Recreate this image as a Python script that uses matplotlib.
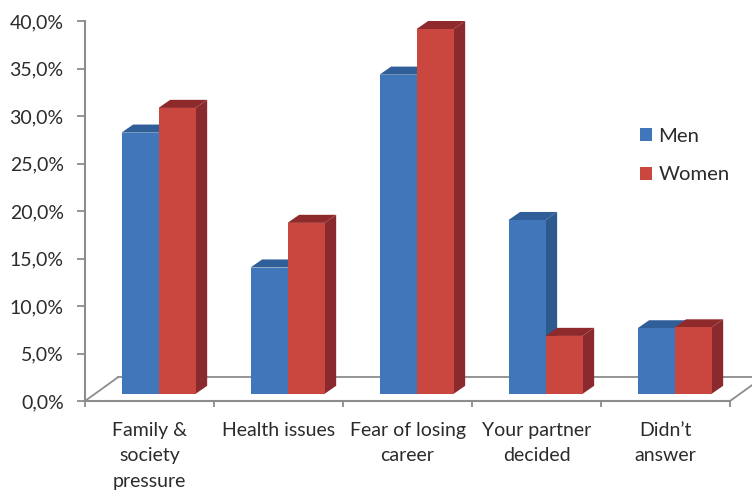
import matplotlib
matplotlib.use("Agg")
import matplotlib.pyplot as plt
from matplotlib.patches import Polygon, Rectangle, Patch

categories = ["Family &\nsociety\npressure", "Health issues", "Fear of losing\ncareer",
              "Your partner\ndecided", "Didn\u2019t\nanswer"]
men = [27.5, 13.3, 33.6, 18.3, 6.9]
women = [30.1, 18.0, 38.4, 6.1, 7.0]
y_ticks = [0, 5, 10, 15, 20, 25, 30, 35, 40]
y_labels = ["0,0%", "5,0%", "10,0%", "15,0%", "20,0%", "25,0%", "30,0%", "35,0%", "40,0%"]

BLUE = ("#4077BB", "#2C5A8F", "#2F5E98")
RED = ("#C9473F", "#8A2A2E", "#8F2A2C")
AXIS = "#8C8C8C"
INK = "#2B2B2B"
FONT = "Lato"

W, H = 752, 490
fig = plt.figure(figsize=(W / 100, H / 100), dpi=100, facecolor="white")
ax = fig.add_axes([85 / W, 1 - 401 / H, 645 / W, 380 / H])
n = len(categories)
ax.set_xlim(0, n)
ax.set_ylim(0, 40)
ax.patch.set_visible(False)

# Oblique projection: floor depth and bar depth, in data units
floor_dx, floor_dy = 0.256, 2.5
bar_dx, bar_dy = 0.09, 0.85
bar_w = 0.287
bar_base = 0.75
group_shift = 0.07

# Floor edges behind the bars
for xs, ys in (
    ([0, floor_dx], [0, floor_dy]),
    ([floor_dx, n + floor_dx], [floor_dy, floor_dy]),
    ([n, n + floor_dx], [0, floor_dy]),
):
    ax.plot(xs, ys, color=AXIS, lw=1.3, clip_on=False, zorder=1)


def bar3d(x0, value, colours, z):
    front, side, top = colours
    y0, y1 = bar_base, bar_base + value
    x1 = x0 + bar_w
    ax.add_patch(Polygon([(x1, y0), (x1 + bar_dx, y0 + bar_dy), (x1 + bar_dx, y1 + bar_dy), (x1, y1)],
                         fc=side, ec="none", clip_on=False, zorder=z))
    ax.add_patch(Polygon([(x0, y1), (x0 + bar_dx, y1 + bar_dy), (x1 + bar_dx, y1 + bar_dy), (x1, y1)],
                         fc=top, ec="none", clip_on=False, zorder=z))
    ax.add_patch(Rectangle((x0, y0), bar_w, value, fc=front, ec="none", clip_on=False, zorder=z))


for i, (m, w) in enumerate(zip(men, women)):
    centre = i + 0.5 + group_shift
    bar3d(centre - bar_w, m, BLUE, 2)
    bar3d(centre, w, RED, 3)

for name in ("top", "right"):
    ax.spines[name].set_visible(False)
for name in ("left", "bottom"):
    ax.spines[name].set_color(AXIS)
    ax.spines[name].set_linewidth(1.5)

ax.set_yticks(y_ticks)
ax.set_yticklabels(y_labels, fontsize=14, family=FONT, color=INK)
ax.tick_params(axis="y", length=5.8, width=1.3, color=AXIS, pad=9.5)

ax.set_xticks(range(n + 1))
ax.set_xticklabels([])
ax.tick_params(axis="x", which="major", length=4, width=1.3, color=AXIS)
ax.set_xticks([i + 0.5 for i in range(n)], minor=True)
ax.set_xticklabels(categories, minor=True, fontsize=14, family=FONT, color=INK, linespacing=1.6, va="top")
ax.tick_params(axis="x", which="minor", length=0, pad=15)

handles = [Patch(fc=BLUE[0], ec="none", label="Men"), Patch(fc=RED[0], ec="none", label="Women")]
fig.legend(handles=handles, loc="upper left", bbox_to_anchor=(634 / W, 1 - 121.5 / H), frameon=False,
           prop={"family": FONT, "size": 14.6}, labelcolor=INK, handlelength=0.6, handleheight=0.6,
           handletextpad=0.3, labelspacing=1.07, borderpad=0.3, borderaxespad=0)

fig.savefig("out.png", dpi=100, facecolor="white")
